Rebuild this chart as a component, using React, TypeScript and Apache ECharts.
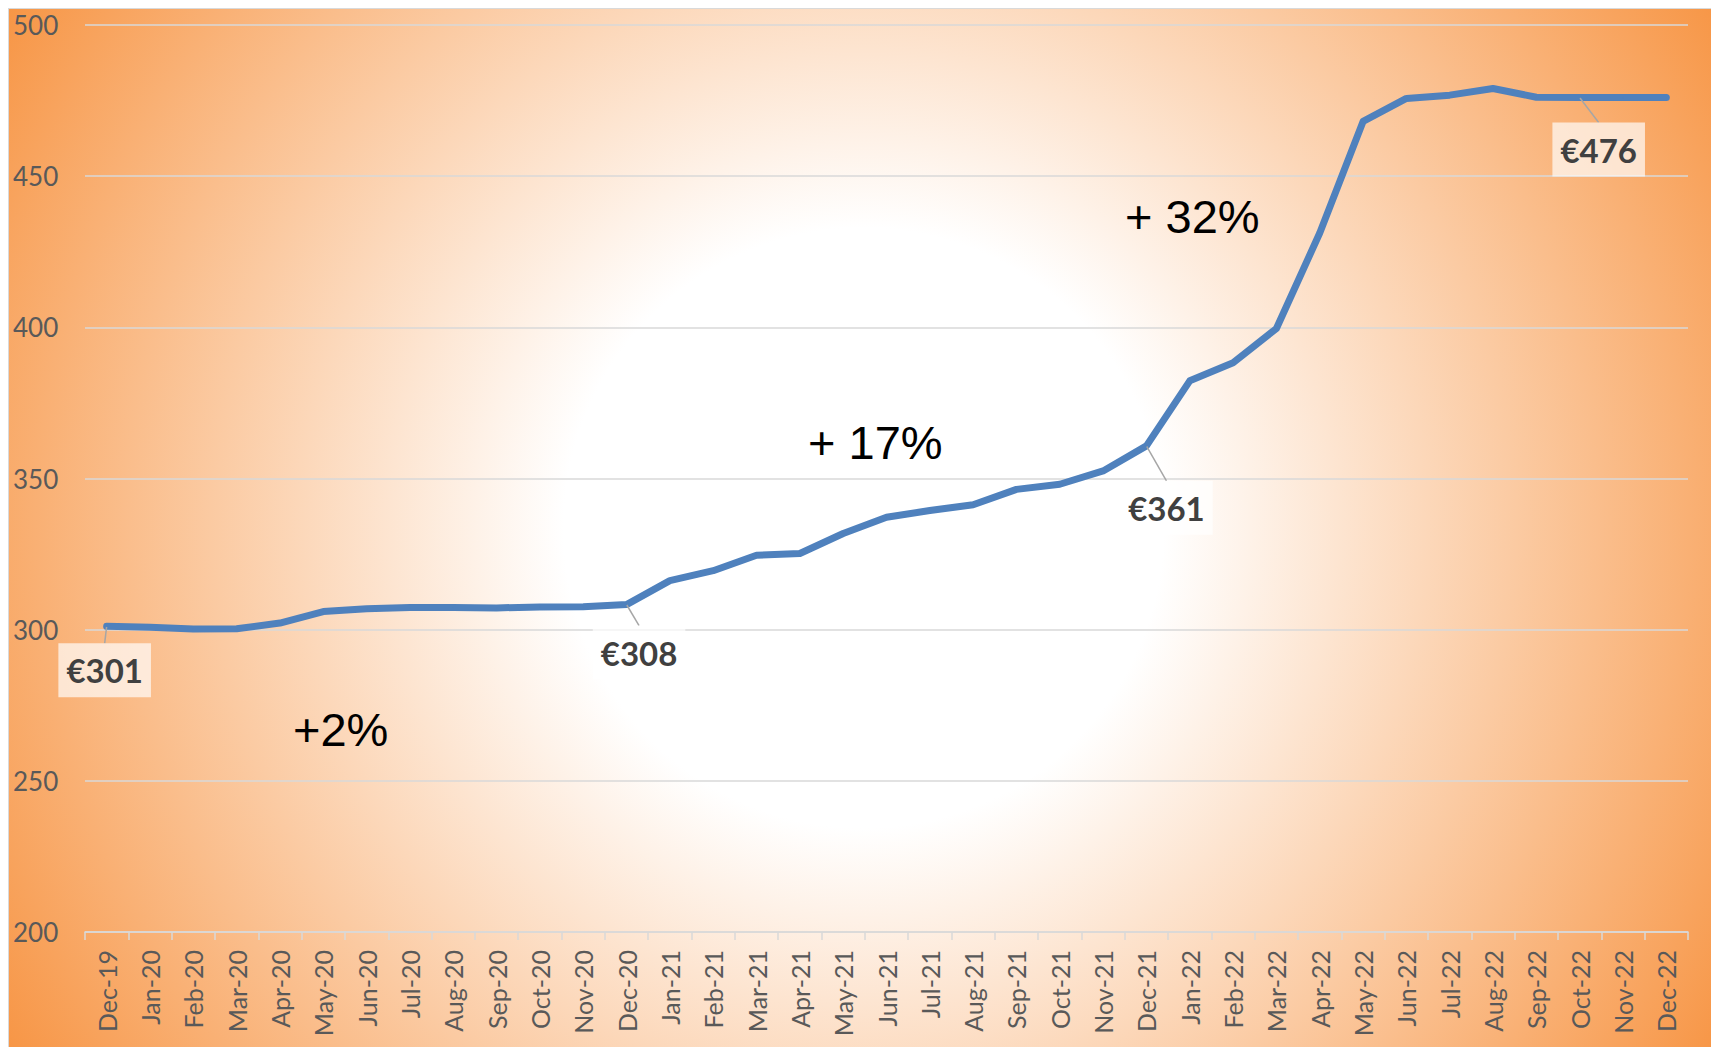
import React, { useEffect, useRef } from "react";
import * as echarts from "echarts";

const months = [
  "Dec-19", "Jan-20", "Feb-20", "Mar-20", "Apr-20", "May-20", "Jun-20", "Jul-20", "Aug-20", "Sep-20", "Oct-20", "Nov-20", "Dec-20",
  "Jan-21", "Feb-21", "Mar-21", "Apr-21", "May-21", "Jun-21", "Jul-21", "Aug-21", "Sep-21", "Oct-21", "Nov-21", "Dec-21",
  "Jan-22", "Feb-22", "Mar-22", "Apr-22", "May-22", "Jun-22", "Jul-22", "Aug-22", "Sep-22", "Oct-22", "Nov-22", "Dec-22",
];

const prices = [
  301.1, 300.8, 300.2, 300.3, 302.2, 306.0, 306.9, 307.3, 307.3, 307.2, 307.5, 307.6, 308.3,
  316.2, 319.5, 324.6, 325.2, 331.8, 337.2, 339.4, 341.3, 346.4, 348.1, 352.5, 360.8,
  382.3, 388.3, 399.6, 431.2, 468.1, 475.7, 476.8, 479.0, 476.1, 476.0, 476.0, 476.0,
];

const yTicks = [200, 250, 300, 350, 400, 450, 500];

// indices of labelled points
const callouts = [0, 12, 24, 34];
const changeNotes = ["+2%", "+ 17%", "+ 32%"];

// layout (styles)
const W = 1709;
const H = 1038;
const calloutOffsets = [
  [-2, 44],
  [12.5, 48],
  [20, 62],
  [19, 52],
];
const notePositions = [
  [284, 720],
  [799, 433],
  [1116, 207],
];

export default function App() {
  const ref = useRef<HTMLDivElement>(null);

  useEffect(() => {
    if (!ref.current) return;
    const chart = echarts.init(ref.current, undefined, { renderer: "svg" });

    const data = prices.map((v, i) =>
      callouts.indexOf(i) >= 0 ? { value: v, label: { show: true } } : v
    );

    const option: any = {
      animation: false,
      graphic: [
        {
          type: "rect",
          z: -10,
          silent: true,
          shape: { x: 0, y: 0, width: W, height: H },
          style: {
            fill: {
              type: "radial",
              x: W / 2,
              y: H / 2,
              r: Math.sqrt((W / 2) * (W / 2) + (H / 2) * (H / 2)),
              global: true,
              colorStops: [
                { offset: 0, color: "#FFFFFF" },
                { offset: 0.3, color: "#FFFFFF" },
                { offset: 1, color: "#F79646" },
              ],
            },
          },
        },
        ...changeNotes.map((t, k) => ({
          type: "text",
          z: 20,
          silent: true,
          x: notePositions[k][0],
          y: notePositions[k][1],
          style: {
            text: t,
            fill: "#000000",
            font: '47px "Liberation Sans", Arial, sans-serif',
            textAlign: "left",
            textVerticalAlign: "middle",
          },
        })),
      ],
      grid: { left: 76, right: 30, top: 16, bottom: 115, containLabel: false },
      xAxis: {
        type: "category",
        data: months,
        boundaryGap: true,
        axisLine: { show: true, lineStyle: { color: "#D9D9D9", width: 1.5 } },
        axisTick: { show: true, length: 8, lineStyle: { color: "#D9D9D9", width: 1.5 } },
        axisLabel: {
          interval: 0,
          rotate: 90,
          margin: 18,
          color: "#595959",
          fontFamily: "Lato",
          fontSize: 25,
        },
        splitLine: { show: false },
      },
      yAxis: {
        type: "value",
        min: yTicks[0],
        max: yTicks[yTicks.length - 1],
        interval: 50,
        axisLine: { show: false },
        axisTick: { show: false },
        axisLabel: {
          align: "left",
          margin: 72,
          color: "#595959",
          fontFamily: "Lato",
          fontSize: 26,
        },
        splitLine: { show: true, lineStyle: { color: "#D9D9D9", width: 1.5 } },
      },
      series: [
        {
          type: "line",
          data,
          showSymbol: true,
          showAllSymbol: true,
          symbol: "circle",
          symbolSize: 1,
          itemStyle: { color: "#4F81BD" },
          lineStyle: { color: "#4F81BD", width: 7, cap: "round", join: "round" },
          z: 5,
          label: {
            show: false,
            position: "inside",
            formatter: (p: any) => "€" + Math.round(p.value),
            fontFamily: "Lato",
            fontWeight: "bold",
            fontSize: 33,
            lineHeight: 36,
            color: "#404040",
            backgroundColor: "rgba(255,255,255,0.68)",
            padding: [9, 8],
          },
          labelLine: {
            show: true,
            lineStyle: { color: "#A6A6A6", width: 1.5 },
          },
          labelLayout: (p: any) => {
            const k = callouts.indexOf(p.dataIndex);
            if (k < 0) return {};
            return {
              x: p.rect.x + p.rect.width / 2 + calloutOffsets[k][0],
              y: p.rect.y + p.rect.height / 2 + calloutOffsets[k][1],
              align: "center",
              verticalAlign: "middle",
            };
          },
        },
      ],
    };

    chart.setOption(option);
    return () => chart.dispose();
  }, []);

  return (
    <div
      ref={ref}
      style={{ width: W, height: H, border: "1px solid #D9D9D9" }}
    />
  );
}
